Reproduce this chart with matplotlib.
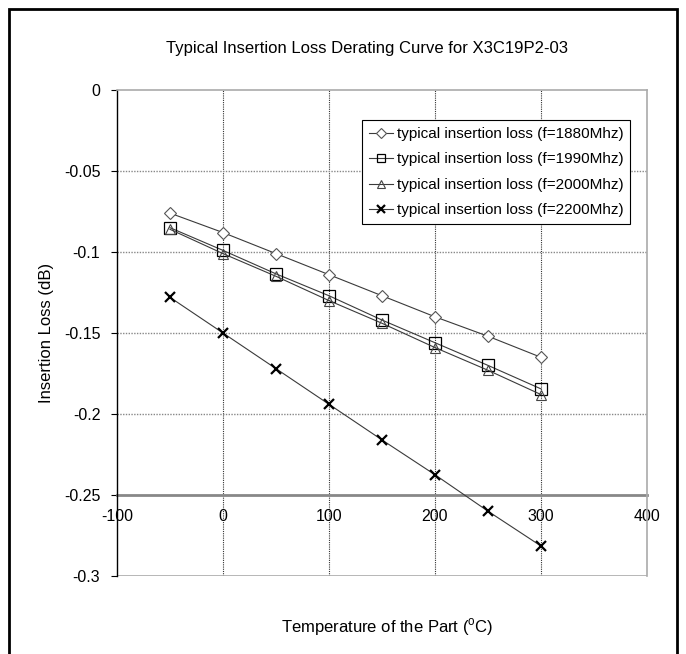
import matplotlib
matplotlib.use("Agg")
import matplotlib.pyplot as plt
from matplotlib.patches import Rectangle

plt.rcParams['font.family'] = ['Liberation Sans', 'DejaVu Sans']
plt.rcParams['mathtext.fontset'] = 'custom'
plt.rcParams['mathtext.rm'] = 'Liberation Sans'

temps = [-50, 0, 50, 100, 150, 200, 250, 300]
loss_1880 = [-0.076, -0.088, -0.101, -0.114, -0.127, -0.140, -0.152, -0.165]
loss_1990 = [-0.085, -0.099, -0.1135, -0.127, -0.142, -0.156, -0.170, -0.1845]
loss_2000 = [-0.086, -0.101, -0.115, -0.130, -0.144, -0.159, -0.173, -0.188]
loss_2200 = [-0.128, -0.150, -0.172, -0.194, -0.216, -0.2375, -0.260, -0.2815]
labels = ["typical insertion loss (f=1880Mhz)",
          "typical insertion loss (f=1990Mhz)",
          "typical insertion loss (f=2000Mhz)",
          "typical insertion loss (f=2200Mhz)"]
x_ticks = [-100, 0, 100, 200, 300, 400]
y_ticks = [0, -0.05, -0.1, -0.15, -0.2, -0.25, -0.3]
y_tick_labels = ["0", "-0.05", "-0.1", "-0.15", "-0.2", "-0.25", "-0.3"]

fig = plt.figure(figsize=(6.86, 6.54), dpi=100)
# outer border
fig.patches.append(Rectangle((9/686, -0.01), (677-9)/686, 1 - 9/654 + 0.01,
                             transform=fig.transFigure, fill=False,
                             edgecolor='black', linewidth=2))

ax = fig.add_axes([117/686, 1 - 576/654, (647-117)/686, (576-90)/654])
ax.set_xlim(-100, 400)
ax.set_ylim(-0.3, 0)

line_c = '#3a3a3a'
ax.plot(temps, loss_1880, color=line_c, lw=0.8, marker='D', markersize=6.5,
        markerfacecolor='white', markeredgecolor='#555555', markeredgewidth=0.8, label=labels[0], zorder=4)
ax.plot(temps, loss_1990, color=line_c, lw=0.8, marker='s', markersize=8,
        markerfacecolor='none', markeredgecolor='black', markeredgewidth=0.9, label=labels[1], zorder=4)
ax.plot(temps, loss_2000, color=line_c, lw=0.8, marker='^', markersize=7.5,
        markerfacecolor='none', markeredgecolor='#444444', markeredgewidth=0.8, label=labels[2], zorder=4)
ax.plot(temps, loss_2200, color=line_c, lw=0.8, marker='x', markersize=7.5,
        markeredgecolor='black', markeredgewidth=1.6, label=labels[3], zorder=4)

# grid
for xv in [0, 100, 200, 300]:
    ax.axvline(xv, color='#333333', lw=0.8, linestyle=(0, (1, 1)), zorder=1)
for yv in [-0.05, -0.1, -0.15, -0.2]:
    ax.axhline(yv, color='#888888', lw=1.0, linestyle=(0, (1, 1)), zorder=1)
ax.axhline(-0.3, color='#aaaaaa', lw=1.2, zorder=1)

for s in ['top', 'right']:
    ax.spines[s].set_color('#aaaaaa')
    ax.spines[s].set_linewidth(1.2)
ax.spines['left'].set_color('black')
ax.spines['left'].set_linewidth(1.0)
ax.spines['bottom'].set_position(('data', -0.25))
ax.spines['bottom'].set_color('#888888')
ax.spines['bottom'].set_linewidth(2)
ax.spines['bottom'].set_zorder(2)

ax.set_xticks(x_ticks)
ax.set_xticklabels([str(v) for v in x_ticks])
ax.set_yticks(y_ticks)
ax.set_yticklabels(y_tick_labels)
ax.tick_params(axis='x', length=0, pad=10, labelsize=11.5)
ax.tick_params(axis='y', length=4, color='black', pad=8, labelsize=11.5)

fig.text(367/686, 1 - 49/654, "Typical Insertion Loss Derating Curve for X3C19P2-03",
         fontsize=12, ha='center', va='center')
ax.set_ylabel("Insertion Loss (dB)", fontsize=12, labelpad=7)
fig.text(387/686, 1 - 627/654, r"Temperature of the Part ($^{\mathrm{o}}$C)",
         fontsize=12, ha='center', va='center')

leg = ax.legend(loc='upper right', bbox_to_anchor=(0.968, 0.938), fontsize=11, frameon=True,
                fancybox=False, edgecolor='black', framealpha=1, handlelength=1.6,
                handletextpad=0.2, borderpad=0.45, labelspacing=0.75, borderaxespad=0,
                markerscale=0.75)
leg.get_frame().set_linewidth(0.8)

fig.savefig("out.png", dpi=100)
